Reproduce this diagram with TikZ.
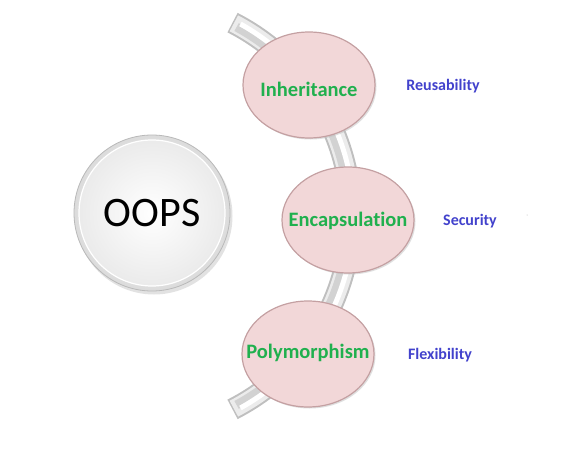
\documentclass[tikz,border=0pt]{standalone}
\usepackage{fontspec}
\setmainfont{Carlito}[Ligatures=NoCommon]
\usetikzlibrary{shapes.geometric,shadows}
\definecolor{pinkfill}{RGB}{242,215,216}
\definecolor{pinkedge}{RGB}{196,160,162}
\definecolor{grntxt}{RGB}{32,176,78}
\definecolor{blutxt}{RGB}{66,66,204}
\tikzset{
  pillar/.style={ellipse, minimum width=132pt, minimum height=106pt, inner sep=0pt,
    fill=pinkfill, draw=pinkedge, line width=1.2pt,
    drop shadow={shadow xshift=1.5pt, shadow yshift=-1.5pt, fill=black!25, opacity=0.5}},
  pillartext/.style={font=\fontsize{20.5}{22}\selectfont\bfseries, text=grntxt, inner sep=0pt},
  benefit/.style={font=\fontsize{16}{18}\selectfont\bfseries, text=blutxt},
}
\begin{document}
\begin{tikzpicture}[x=1pt,y=1pt]
\useasboundingbox (0,0) rectangle (579,451);
% curved band
\coordinate (bc) at (134,235);
\draw[line width=22pt, gray!50] (bc) ++(-63:217) arc[start angle=-63, end angle=63, radius=217];
\draw[line width=18pt, gray!15] (bc) ++(-62.6:217) arc[start angle=-62.6, end angle=62.6, radius=217];
\draw[line width=9pt, gray!35] (bc) ++(-61.5:215) arc[start angle=-61.5, end angle=61.5, radius=215];
\draw[line width=5pt, white] (bc) ++(-61:219.5) arc[start angle=-61, end angle=61, radius=219.5];
% OOPS button
\fill[black!25, opacity=0.45] (154,235) circle (78.5);
\node[circle, minimum size=156pt, inner sep=0pt, draw=gray!55, line width=0.8pt,
  shading=radial, inner color=white, outer color=gray!28] (oops) at (152,238) {};
\node[circle, minimum size=146pt, inner sep=0pt, draw=white, line width=1.2pt,
  shading=radial, inner color=white, outer color=gray!16] (oopsface) at (152,238)
  {\fontsize{42}{44}\selectfont OOPS};
% pillars
\node[pillar] (inh) at (309,366) {};
\node[pillar] (enc) at (348,231) {};
\node[pillar] (poly) at (308,97) {};
\node[pillartext] (inht) at ([yshift=-4pt]inh.center) {Inheritance};
\node[pillartext] (enct) at ([yshift=-1pt]enc.center) {Encapsulation};
\node[pillartext] (polyt) at ([yshift=1pt]poly.center) {Polymorphism};
% benefits
\node[benefit] (reu) at (443,365) {Reusability};
\node[benefit] (sec) at (470,230) {Security};
\node[benefit] (flex) at (440,96) {Flexibility};
\fill[gray!60] (527,236) circle (0.5);
\end{tikzpicture}
\end{document}
